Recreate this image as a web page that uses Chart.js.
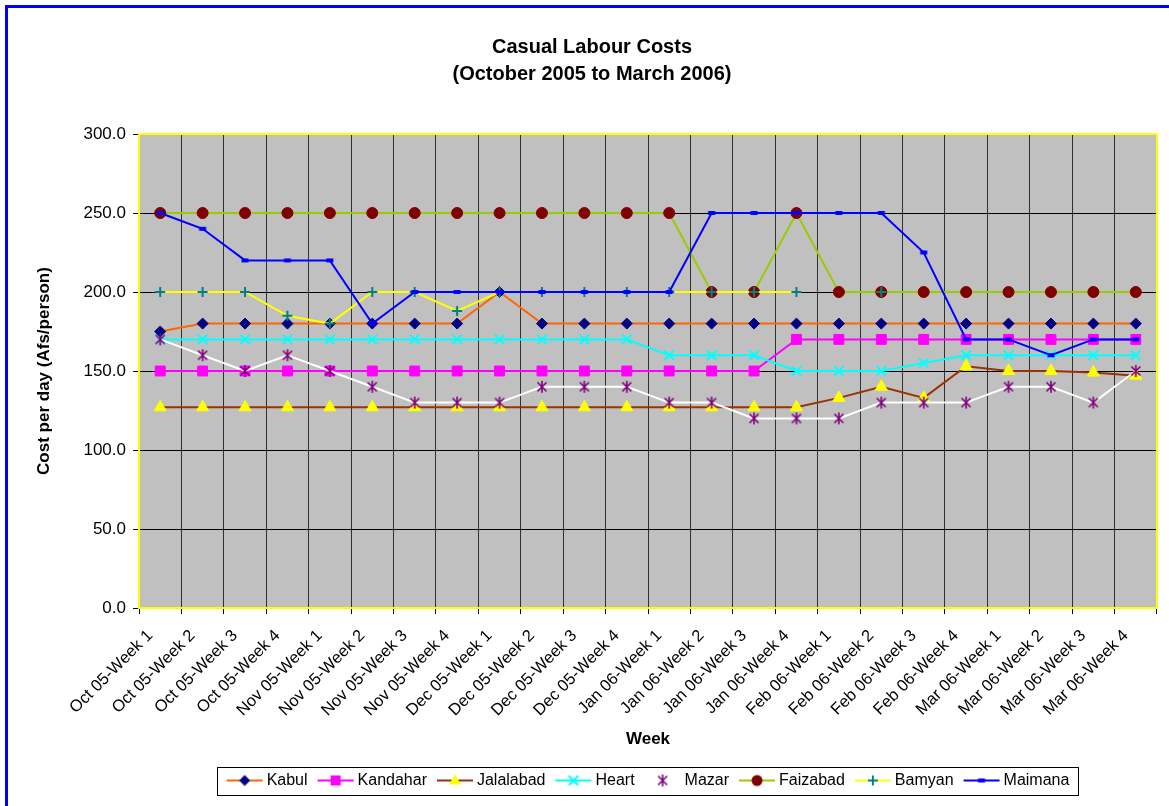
<!DOCTYPE html>
<html>
<head>
    <meta charset="utf-8" />
    <style>
        html, body { margin: 0; padding: 0; background: #fff; overflow: hidden; }
        #wrap { position: relative; width: 1169px; height: 806px; }
        #frame { position: absolute; left: 5px; top: 5px; width: 1200px; height: 900px; border: 3px solid #0000ff; pointer-events: none; }
    </style>
</head>
<body>
    <div id="wrap">
        <canvas id="chart" width="1169" height="806"></canvas>
        <div id="frame"></div>
    </div>

    <script src="https://cdn.jsdelivr.net/npm/chart.js"></script>
    <script type="text/javascript">

        // categorias (semanas)
        const weeks = ['Oct 05-Week 1', 'Oct 05-Week 2', 'Oct 05-Week 3', 'Oct 05-Week 4',
            'Nov 05-Week 1', 'Nov 05-Week 2', 'Nov 05-Week 3', 'Nov 05-Week 4',
            'Dec 05-Week 1', 'Dec 05-Week 2', 'Dec 05-Week 3', 'Dec 05-Week 4',
            'Jan 06-Week 1', 'Jan 06-Week 2', 'Jan 06-Week 3', 'Jan 06-Week 4',
            'Feb 06-Week 1', 'Feb 06-Week 2', 'Feb 06-Week 3', 'Feb 06-Week 4',
            'Mar 06-Week 1', 'Mar 06-Week 2', 'Mar 06-Week 3', 'Mar 06-Week 4'];

        const kabul = [175, 180, 180, 180, 180, 180, 180, 180, 200, 180, 180, 180, 180, 180, 180, 180, 180, 180, 180, 180, 180, 180, 180, 180];
        const kandahar = [150, 150, 150, 150, 150, 150, 150, 150, 150, 150, 150, 150, 150, 150, 150, 170, 170, 170, 170, 170, 170, 170, 170, 170];
        const jalalabad = [127, 127, 127, 127, 127, 127, 127, 127, 127, 127, 127, 127, 127, 127, 127, 127, 133, 140, 133, 153, 150, 150, 149, 147];
        const heart = [170, 170, 170, 170, 170, 170, 170, 170, 170, 170, 170, 170, 160, 160, 160, 150, 150, 150, 155, 160, 160, 160, 160, 160];
        const mazar = [170, 160, 150, 160, 150, 140, 130, 130, 130, 140, 140, 140, 130, 130, 120, 120, 120, 130, 130, 130, 140, 140, 130, 150];
        const faizabad = [250, 250, 250, 250, 250, 250, 250, 250, 250, 250, 250, 250, 250, 200, 200, 250, 200, 200, 200, 200, 200, 200, 200, 200];
        const bamyan = [200, 200, 200, 185, 180, 200, 200, 188, 200, 200, 200, 200, 200, 200, 200, 200, null, 200, null, null, null, null, null, null];
        const maimana = [250, 240, 220, 220, 220, 180, 200, 200, 200, 200, 200, 200, 200, 250, 250, 250, 250, 250, 225, 170, 170, 160, 170, 170];

        const yTicks = [0, 50, 100, 150, 200, 250, 300];

        Chart.defaults.font.family = '"Liberation Sans", Arial, sans-serif';
        Chart.defaults.color = '#000';

        // dibuja un marcador (para la leyenda y los puntos especiales)
        function drawMarker(ctx, kind, color, x, y) {
            ctx.save();
            ctx.fillStyle = color;
            ctx.strokeStyle = color;
            ctx.lineWidth = 2;
            ctx.beginPath();
            if (kind == 'diamond') {
                ctx.moveTo(x, y - 5.5); ctx.lineTo(x + 5.5, y); ctx.lineTo(x, y + 5.5); ctx.lineTo(x - 5.5, y);
                ctx.closePath(); ctx.fill();
            } else if (kind == 'square') {
                ctx.fillRect(x - 5, y - 5, 10, 10);
            } else if (kind == 'triangle') {
                ctx.moveTo(x, y - 6); ctx.lineTo(x + 6, y + 4); ctx.lineTo(x - 6, y + 4);
                ctx.closePath(); ctx.fill();
            } else if (kind == 'x') {
                ctx.moveTo(x - 4.7, y - 4.7); ctx.lineTo(x + 4.7, y + 4.7);
                ctx.moveTo(x + 4.7, y - 4.7); ctx.lineTo(x - 4.7, y + 4.7); ctx.stroke();
            } else if (kind == 'star') {
                ctx.lineWidth = 1.6;
                ctx.moveTo(x - 4.5, y - 4.5); ctx.lineTo(x + 4.5, y + 4.5);
                ctx.moveTo(x + 4.5, y - 4.5); ctx.lineTo(x - 4.5, y + 4.5);
                ctx.moveTo(x, y - 6); ctx.lineTo(x, y + 6); ctx.stroke();
            } else if (kind == 'circle') {
                ctx.arc(x, y, 5.5, 0, Math.PI * 2); ctx.fill();
            } else if (kind == 'plus') {
                ctx.moveTo(x - 5, y); ctx.lineTo(x + 5, y);
                ctx.moveTo(x, y - 5); ctx.lineTo(x, y + 5); ctx.stroke();
            } else if (kind == 'dash') {
                ctx.fillRect(x - 3.5, y - 2, 7, 4);
            }
            ctx.restore();
        }

        function markerImage(kind, color) {
            const c = document.createElement('canvas');
            c.width = 14; c.height = 14;
            drawMarker(c.getContext('2d'), kind, color, 7, 7);
            return c;
        }

        function legendIcon(kind, color, lineColor) {
            const c = document.createElement('canvas');
            c.width = 44; c.height = 16;
            const ctx = c.getContext('2d');
            ctx.strokeStyle = lineColor;
            ctx.lineWidth = 2;
            ctx.beginPath(); ctx.moveTo(7, 8); ctx.lineTo(43, 8); ctx.stroke();
            drawMarker(ctx, kind, color, 25, 8);
            return c;
        }

        const series = [
            { label: 'Kabul', data: kabul, line: '#ff6600', mark: 'diamond', color: '#000080', style: 'rectRot', r: 5.5 },
            { label: 'Kandahar', data: kandahar, line: '#ff00ff', mark: 'square', color: '#ff00ff', style: 'rect', r: 7 },
            { label: 'Jalalabad', data: jalalabad, line: '#993300', mark: 'triangle', color: '#ffff00', style: 'triangle', r: 7 },
            { label: 'Heart', data: heart, line: '#00ffff', mark: 'x', color: '#00ffff', style: 'crossRot', r: 6.7 },
            { label: 'Mazar', data: mazar, line: '#ffffff', mark: 'star', color: '#800080', style: null, r: 5 },
            { label: 'Faizabad', data: faizabad, line: '#99cc00', mark: 'circle', color: '#800000', style: 'circle', r: 5.5 },
            { label: 'Bamyan', data: bamyan, line: '#ffff00', mark: 'plus', color: '#008080', style: 'cross', r: 5 },
            { label: 'Maimana', data: maimana, line: '#0000ff', mark: 'dash', color: '#0000ff', style: null, r: 4 }
        ];

        const datasets = series.map((s, i) => ({
            label: s.label,
            data: s.data,
            borderColor: s.line,
            borderWidth: 2,
            backgroundColor: s.color,
            pointStyle: s.style || markerImage(s.mark, s.color),
            pointRadius: s.r,
            pointBorderColor: s.color,
            pointBackgroundColor: s.color,
            pointBorderWidth: (s.style == 'crossRot' || s.style == 'cross') ? 2 : 1,
            tension: 0,
            spanGaps: false,
            order: series.length - i
        }));

        const icons = series.map(s => legendIcon(s.mark, s.color, s.line));

        const chartPlugin = {
            id: 'chartPlugin',
            beforeDraw(chart) {
                const { ctx, chartArea: a } = chart;
                ctx.save();
                ctx.fillStyle = '#c0c0c0';
                ctx.fillRect(a.left, a.top, a.right - a.left, a.bottom - a.top);
                ctx.restore();
            },
            beforeDatasetsDraw(chart) {
                const { ctx, chartArea: a } = chart;
                ctx.save();
                ctx.strokeStyle = '#ffff00';
                ctx.lineWidth = 2;
                ctx.strokeRect(a.left, a.top, a.right - a.left, a.bottom - a.top);
                ctx.restore();
            },
            afterLayout(chart) {
                // la leyenda va centrada bajo el area del grafico
                const lg = chart.legend;
                const dx = 647 - (lg.left + lg.right) / 2;
                lg.left += dx;
                lg.right += dx;
            },
            afterDraw(chart) {
                const boxes = chart.legend.legendHitBoxes;
                if (!boxes || !boxes.length) return;
                let l = Infinity, r = -Infinity, t = Infinity, b = -Infinity;
                boxes.forEach(h => {
                    l = Math.min(l, h.left); r = Math.max(r, h.left + h.width);
                    t = Math.min(t, h.top); b = Math.max(b, h.top + h.height);
                });
                const ctx = chart.ctx;
                ctx.save();
                ctx.strokeStyle = '#000';
                ctx.lineWidth = 1;
                ctx.strokeRect(Math.round(l - 8) + 0.5, Math.round(t - 6) + 0.5, Math.round(r - l + 16), Math.round(b - t + 12));
                ctx.restore();
            }
        };

        new Chart(document.getElementById('chart').getContext('2d'), {
            type: 'line',
            data: { labels: weeks, datasets: datasets },
            plugins: [chartPlugin],
            options: {
                responsive: false,
                animation: false,
                devicePixelRatio: 1,
                layout: { padding: { left: 27, right: 12, top: 0, bottom: 7.5 } },
                plugins: {
                    tooltip: { enabled: false },
                    title: {
                        display: true,
                        text: ['Casual Labour Costs', '(October 2005 to March 2006)'],
                        font: { size: 20, weight: 'bold', lineHeight: 1.35 },
                        color: '#000',
                        padding: { top: 33.5, bottom: 46.5 }
                    },
                    legend: {
                        position: 'bottom',
                        labels: {
                            usePointStyle: true,
                            pointStyleWidth: 34,
                            padding: 8,
                            font: { size: 16 },
                            color: '#000',
                            generateLabels(chart) {
                                return chart.data.datasets.map((ds, i) => ({
                                    text: ds.label,
                                    datasetIndex: i,
                                    pointStyle: icons[i],
                                    fontColor: '#000',
                                    hidden: false,
                                    lineWidth: 0,
                                    strokeStyle: 'transparent',
                                    fillStyle: 'transparent'
                                }));
                            }
                        }
                    }
                },
                scales: {
                    x: {
                        offset: true,
                        grid: { offset: true, color: '#303030', tickColor: '#000', tickLength: 6 },
                        border: { display: false },
                        ticks: { autoSkip: false, minRotation: 45, maxRotation: 45, padding: 12, labelOffset: -10, font: { size: 16.5 } },
                        title: { display: true, text: 'Week', font: { size: 17, weight: 'bold' }, padding: { top: 0, bottom: 15.3 } },
                        afterFit(scale) { scale.height = 156.5; }
                    },
                    y: {
                        min: 0,
                        max: 300,
                        afterBuildTicks(scale) { scale.ticks = yTicks.map(v => ({ value: v })); },
                        grid: { color: '#000', tickColor: '#000', tickLength: 6 },
                        border: { display: false },
                        ticks: { padding: 7, font: { size: 17 }, callback: v => v.toFixed(1) },
                        title: { display: true, text: 'Cost per day (Afs/person)', font: { size: 17, weight: 'bold' }, padding: { top: 6.8, bottom: 0 } },
                        afterFit(scale) { scale.width = 112; }
                    }
                }
            }
        });

    </script>
</body>
</html>
